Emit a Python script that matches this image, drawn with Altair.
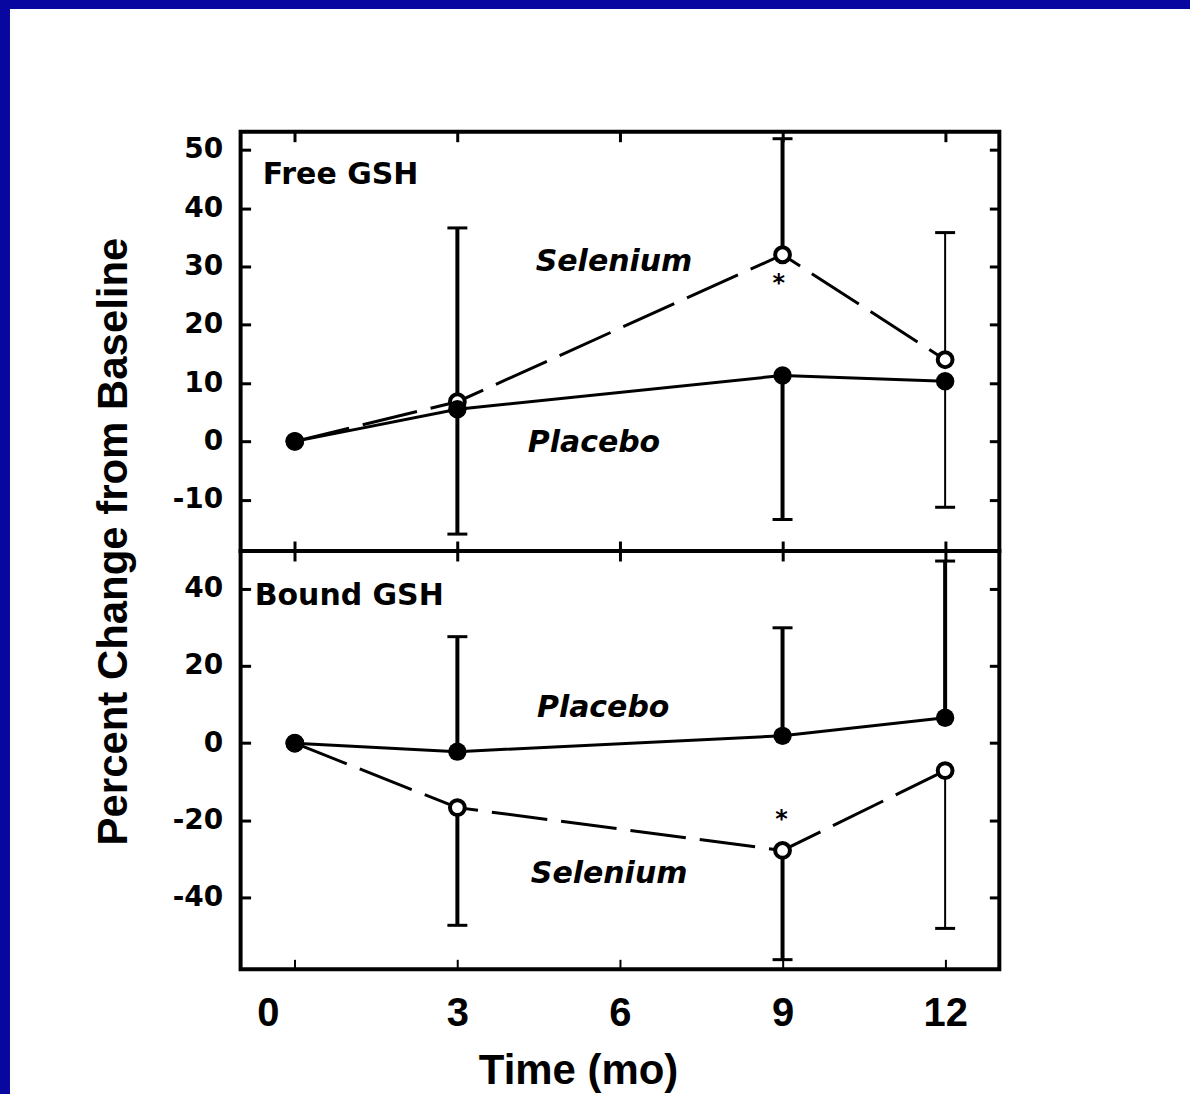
import altair as alt
import pandas as pd

# ---------------- data ----------------
TIME = [0, 3, 9, 12]

FREE_PLACEBO = [0, 5.5, 11.3, 10.3]
FREE_SELENIUM = [0, 6.8, 32.0, 14.0]
BOUND_PLACEBO = [0, -2.2, 1.9, 6.6]
BOUND_SELENIUM = [0, -16.7, -27.8, -7.1]

# error bars: time, start (at the mean), end (far end with cap), thick line?
FREE_ERR_T = [3, 3, 9, 9, 12, 12]
FREE_ERR_FROM = [6.8, 5.5, 32.0, 11.3, 14.0, 10.3]
FREE_ERR_TO = [36.6, -15.9, 51.9, -13.4, 35.8, -11.3]
FREE_ERR_THICK = [True, True, True, True, False, False]

BOUND_ERR_T = [3, 3, 9, 9, 12, 12]
BOUND_ERR_FROM = [-2.2, -16.7, 1.9, -27.8, 6.6, -7.1]
BOUND_ERR_TO = [27.6, -47.2, 29.9, -56.1, 47.2, -48.0]
BOUND_ERR_THICK = [True, True, True, True, True, False]

X_TICKS = [0, 3, 6, 9, 12]
X_DOMAIN = [-1, 13]
FREE_Y_TICKS = [-10, 0, 10, 20, 30, 40, 50]
FREE_Y_DOMAIN = [-18.8, 53.1]
BOUND_Y_TICKS = [-40, -20, 0, 20, 40]
BOUND_Y_DOMAIN = [-58.6, 49.8]

FREE_TITLE = ["Free GSH"]
FREE_TITLE_X = [-0.59]
FREE_TITLE_Y = [45.7]
FREE_GROUPS = ["Selenium", "Placebo"]
FREE_GROUP_X = [5.89, 5.52]
FREE_GROUP_Y = [30.8, -0.2]
FREE_STAR_X = [8.93]
FREE_STAR_Y = [27.4]

BOUND_TITLE = ["Bound GSH"]
BOUND_TITLE_X = [-0.74]
BOUND_TITLE_Y = [38.2]
BOUND_GROUPS = ["Placebo", "Selenium"]
BOUND_GROUP_X = [5.69, 5.8]
BOUND_GROUP_Y = [9.2, -33.8]
BOUND_STAR_X = [8.98]
BOUND_STAR_Y = [-19.5]

BLUE = "#0808a0"
W, H_TOP, H_BOT = 760, 420, 419
PLAIN_MINUS = "'' + datum.value"


def tick_axis(orient, values, size=10, width=3):
    return alt.Axis(orient=orient, values=values, offset=-10, tickSize=size,
                    tickWidth=width, tickColor="black", domain=False, grid=False,
                    labels=False, title=None)


def panel(placebo, selenium, err_t, err_from, err_to, err_thick, ydom, yticks,
          title, tx, ty, groups, gx, gy, sx, sy, height, is_top):
    xs = alt.Scale(domain=X_DOMAIN, nice=False, zero=False)
    ys = alt.Scale(domain=ydom, nice=False, zero=False)

    pl = pd.DataFrame({"t": TIME, "v": placebo})
    se = pd.DataFrame({"t": TIME, "v": selenium})
    err = pd.DataFrame({"t": err_t, "lo": err_from, "hi": err_to, "thick": err_thick})

    left_common = dict(orient="left", values=yticks, offset=-10, tickSize=10, tickWidth=3,
                       tickColor="black", domain=False, grid=False,
                       labelFont="DejaVu Sans", labelFontWeight="bold", labelFontSize=28,
                       labelColor="black", labelPadding=18, labelOverlap=False,
                       labelExpr=PLAIN_MINUS)
    if is_top:
        left = alt.Axis(**left_common,
                        title="Percent Change from Baseline", titleFont="Liberation Sans",
                        titleFontWeight="bold", titleFontSize=42, titleColor="black",
                        titleAngle=270, titleAlign="center", titleBaseline="alphabetic",
                        titleX=-124, titleY=410)
        bottom = tick_axis("bottom", X_TICKS, size=20)
        top = tick_axis("top", X_TICKS)
    else:
        left = alt.Axis(**left_common, title=None)
        bottom = alt.Axis(orient="bottom", values=X_TICKS, offset=-10, tickSize=10, tickWidth=2,
                          tickColor="black", domain=False, grid=False,
                          labelFont="Liberation Sans", labelFontWeight="bold", labelFontSize=40,
                          labelColor="black", labelBaseline="alphabetic", labelPadding=56,
                          labelFlush=False, labelOverlap=False,
                          labelOffset={"condition": {"test": "datum.value == 0", "value": -27}, "value": 0},
                          title="Time (mo)", titleFont="Liberation Sans", titleFontWeight="bold",
                          titleFontSize=42, titleColor="black", titleAngle=0, titleAlign="center",
                          titleBaseline="alphabetic", titleX=338, titleY=124)
        top = None
    right = tick_axis("right", yticks)

    placebo_line = alt.Chart(pl).mark_line(color="black", strokeWidth=3).encode(
        x=alt.X("t:Q", scale=xs, axis=bottom),
        y=alt.Y("v:Q", scale=ys, axis=left),
    )
    selenium_line = alt.Chart(se).mark_line(color="black", strokeWidth=3, strokeDash=[56, 14]).encode(
        x=alt.X("t:Q", scale=xs, axis=top),
        y=alt.Y("v:Q", scale=ys, axis=right),
    )
    bars = alt.Chart(err).mark_rule(color="black").encode(
        x=alt.X("t:Q", scale=xs, axis=None),
        y=alt.Y("lo:Q", scale=ys, axis=None),
        y2="hi:Q",
        strokeWidth=alt.condition("datum.thick", alt.value(4), alt.value(2)),
    )
    caps = alt.Chart(err).mark_tick(color="black", orient="horizontal", size=20,
                                    thickness=3, opacity=1).encode(
        x=alt.X("t:Q", scale=xs, axis=None),
        y=alt.Y("hi:Q", scale=ys, axis=None),
    )
    sel_pts = alt.Chart(se).mark_circle(fill="white", stroke="black", strokeWidth=4,
                                        size=220, opacity=1).encode(
        x=alt.X("t:Q", scale=xs, axis=None),
        y=alt.Y("v:Q", scale=ys, axis=None),
    )
    pl_pts = alt.Chart(pl).mark_circle(color="black", size=340, opacity=1).encode(
        x=alt.X("t:Q", scale=xs, axis=None),
        y=alt.Y("v:Q", scale=ys, axis=None),
    )
    title_txt = alt.Chart(pd.DataFrame({"x": tx, "y": ty, "s": title})).mark_text(
        font="DejaVu Sans", fontWeight="bold", fontSize=30, align="left",
        baseline="middle", color="black").encode(
        x=alt.X("x:Q", scale=xs, axis=None),
        y=alt.Y("y:Q", scale=ys, axis=None),
        text="s:N",
    )
    group_txt = alt.Chart(pd.DataFrame({"x": gx, "y": gy, "s": groups})).mark_text(
        font="DejaVu Sans", fontWeight="bold", fontStyle="italic", fontSize=30,
        align="center", baseline="middle", color="black").encode(
        x=alt.X("x:Q", scale=xs, axis=None),
        y=alt.Y("y:Q", scale=ys, axis=None),
        text="s:N",
    )
    star = alt.Chart(pd.DataFrame({"x": sx, "y": sy, "s": ["*"] * len(sx)})).mark_text(
        font="DejaVu Sans", fontWeight="bold", fontSize=24, align="center",
        baseline="middle", dy=2, color="black").encode(
        x=alt.X("x:Q", scale=xs, axis=None),
        y=alt.Y("y:Q", scale=ys, axis=None),
        text="s:N",
    )

    layers = [placebo_line, selenium_line, bars, caps, sel_pts, pl_pts, title_txt, group_txt, star]
    if is_top:
        one = pd.DataFrame({"k": [0]})
        # slide frame: blue edge on top and left
        strip_top = alt.Chart(one).mark_rect(color=BLUE).encode(
            x=alt.value(-241), x2=alt.value(951), y=alt.value(-132), y2=alt.value(-123))
        strip_left = alt.Chart(one).mark_rect(color=BLUE).encode(
            x=alt.value(-241), x2=alt.value(-231), y=alt.value(-132), y2=alt.value(975))
        layers = [strip_top, strip_left] + layers

    return alt.layer(*layers).resolve_axis(x="independent", y="independent").properties(
        width=W, height=height)


top_panel = panel(FREE_PLACEBO, FREE_SELENIUM, FREE_ERR_T, FREE_ERR_FROM, FREE_ERR_TO,
                  FREE_ERR_THICK, FREE_Y_DOMAIN, FREE_Y_TICKS, FREE_TITLE, FREE_TITLE_X,
                  FREE_TITLE_Y, FREE_GROUPS, FREE_GROUP_X, FREE_GROUP_Y, FREE_STAR_X,
                  FREE_STAR_Y, H_TOP, True)
bottom_panel = panel(BOUND_PLACEBO, BOUND_SELENIUM, BOUND_ERR_T, BOUND_ERR_FROM, BOUND_ERR_TO,
                     BOUND_ERR_THICK, BOUND_Y_DOMAIN, BOUND_Y_TICKS, BOUND_TITLE, BOUND_TITLE_X,
                     BOUND_TITLE_Y, BOUND_GROUPS, BOUND_GROUP_X, BOUND_GROUP_Y, BOUND_STAR_X,
                     BOUND_STAR_Y, H_BOT, False)

chart = alt.vconcat(top_panel, bottom_panel, spacing=0, bounds="flush").properties(
    padding={"left": -2, "top": -3, "right": 0, "bottom": 0}, background="white"
).configure_view(stroke="black", strokeWidth=4)

chart.save("out.html", embed_options={"renderer": "svg", "actions": False})
